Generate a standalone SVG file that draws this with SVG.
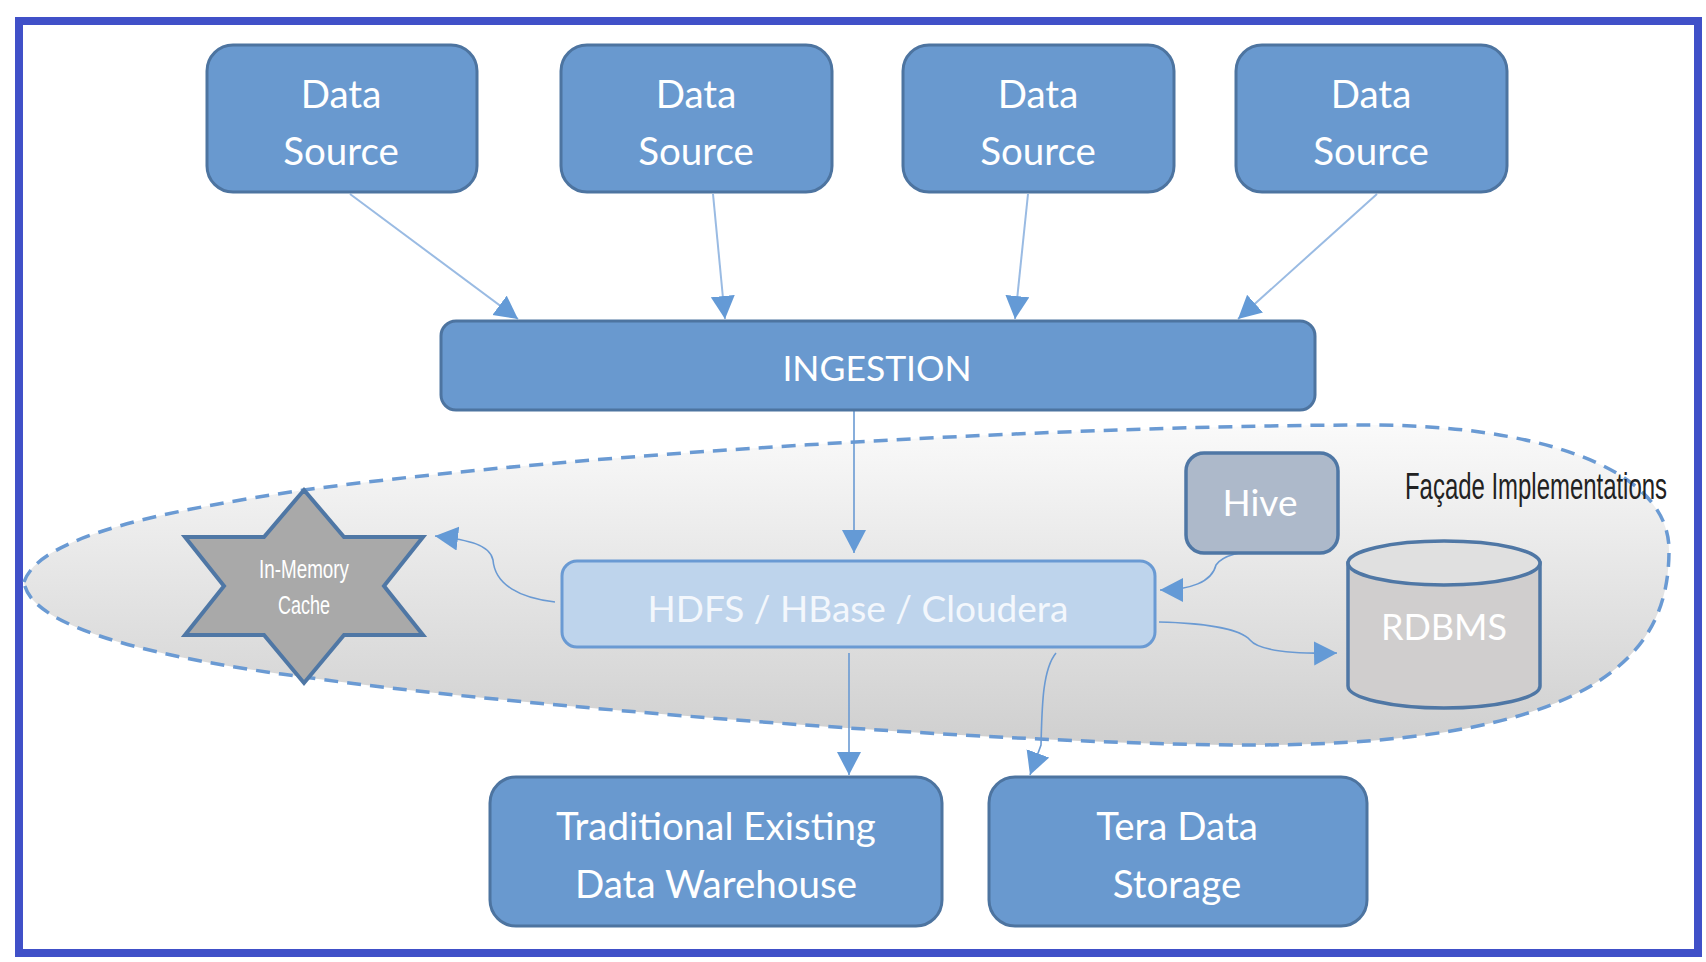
<svg xmlns="http://www.w3.org/2000/svg" width="1706" height="962" viewBox="0 0 1706 962">
<style>
.n{fill:#6999cf;stroke:#4d74a0;stroke-width:3}
.t{font-family:"Lato","Noto Sans",sans-serif;font-size:38.5px;fill:#fff;text-anchor:middle}
.c{fill:none;stroke:#6a9ad3;stroke-width:1.6}
.l{stroke:#9abbe3;stroke-width:2;fill:none}
.nar{font-family:"Liberation Sans",sans-serif}
</style>
<defs>
<linearGradient id="g" x1="0" y1="0" x2="0" y2="1"><stop offset="0" stop-color="#fafafa"/><stop offset="1" stop-color="#cfcfcf"/></linearGradient>
<marker id="a" markerUnits="userSpaceOnUse" markerWidth="26" markerHeight="26" refX="23" refY="12" orient="auto"><path d="M0 0L23 12L0 24Z" fill="#649ad6"/></marker>
</defs>
<rect width="1706" height="962" fill="#fff"/>
<rect id="frame" x="19" y="21" width="1679" height="932" fill="none" stroke="#4050c8" stroke-width="8"/>
<path id="facade" d="M24 582C40 535 170 510 304 490C600 450 1100 425 1370 425C1530 425 1669 465 1669 550C1669 640 1620 745 1251 745C1000 745 500 705 304 677C170 660 30 630 24 582Z" fill="url(#g)" stroke="#6a9ad3" stroke-width="3.5" stroke-dasharray="14 9"/>
<g id="connectors">
<path class="l" d="M350 194L518 319" marker-end="url(#a)"/>
<path class="l" d="M713 194L725 319" marker-end="url(#a)"/>
<path class="l" d="M1028 194L1015 319" marker-end="url(#a)"/>
<path class="l" d="M1377 194L1238 319" marker-end="url(#a)"/>
<path class="c" d="M854 411V553" marker-end="url(#a)"/>
<path class="c" d="M555 602C520 598 495 585 493 560C490 545 470 540 435 536" marker-end="url(#a)"/>
<path class="c" d="M1270 551C1240 550 1222 556 1216 565C1212 582 1190 590 1160 590" marker-end="url(#a)"/>
<path class="c" d="M1159 622C1200 623 1240 628 1250 640C1258 650 1290 654 1337 653" marker-end="url(#a)"/>
<path class="c" d="M849 653V775" marker-end="url(#a)"/>
<path class="c" d="M1056 653C1042 670 1042 710 1041 745L1030 775" marker-end="url(#a)"/>
</g>
<g id="ds1"><rect class="n" x="207" y="45" width="270" height="147" rx="26"/><text class="t" x="341" y="108">Data</text><text class="t" x="341" y="165">Source</text></g>
<g id="ds2"><rect class="n" x="561" y="45" width="271" height="147" rx="26"/><text class="t" x="696" y="108">Data</text><text class="t" x="696" y="165">Source</text></g>
<g id="ds3"><rect class="n" x="903" y="45" width="271" height="147" rx="26"/><text class="t" x="1038" y="108">Data</text><text class="t" x="1038" y="165">Source</text></g>
<g id="ds4"><rect class="n" x="1236" y="45" width="271" height="147" rx="26"/><text class="t" x="1371" y="108">Data</text><text class="t" x="1371" y="165">Source</text></g>
<g id="ingestion"><rect class="n" x="441" y="321" width="874" height="89" rx="15"/><text class="t" x="877" y="381" style="font-size:35.5px">INGESTION</text></g>
<g id="cache"><path d="M304 490L344 537H423L384 586L423 635H344L304 683L264 635H185L224 586L185 537H264Z" fill="#a9a9a9" stroke="#4f77a5" stroke-width="4"/><text class="nar" x="304" y="578" font-size="25" fill="#fff" text-anchor="middle" textLength="90" lengthAdjust="spacingAndGlyphs">In-Memory</text><text class="nar" x="304" y="614" font-size="25" fill="#fff" text-anchor="middle" textLength="52" lengthAdjust="spacingAndGlyphs">Cache</text></g>
<g id="hdfs"><rect x="562" y="561" width="593" height="86" rx="15" fill="#bed4ec" stroke="#6a9ad3" stroke-width="3"/><text class="t" x="858" y="622" style="fill:#f3f7fc;font-size:37px">HDFS / HBase / Cloudera</text></g>
<g id="hive"><rect x="1186" y="453" width="152" height="100" rx="18" fill="#adb9ca" stroke="#4f77a5" stroke-width="3.5"/><text class="t" x="1260" y="516" style="font-size:37px">Hive</text></g>
<g id="rdbms"><path d="M1348 563V686C1348 698 1392 708 1444 708C1496 708 1540 698 1540 686V563Z" fill="#d0cece" stroke="#4f77a5" stroke-width="3.5"/><ellipse cx="1444" cy="563" rx="96" ry="22" fill="#e0e0e0" stroke="#4f77a5" stroke-width="3.5"/><text class="t" x="1444" y="640" style="font-size:36px">RDBMS</text></g>
<g id="tdw"><rect class="n" x="490" y="777" width="452" height="149" rx="26"/><text class="t" x="716" y="840">Traditional Existing</text><text class="t" x="716" y="898">Data Warehouse</text></g>
<g id="tera"><rect class="n" x="989" y="777" width="378" height="149" rx="26"/><text class="t" x="1177" y="840">Tera Data</text><text class="t" x="1177" y="898">Storage</text></g>
<text id="facade-label" class="nar" x="1405" y="499" font-size="36" fill="#222" textLength="262" lengthAdjust="spacingAndGlyphs">Façade Implementations</text>
</svg>
